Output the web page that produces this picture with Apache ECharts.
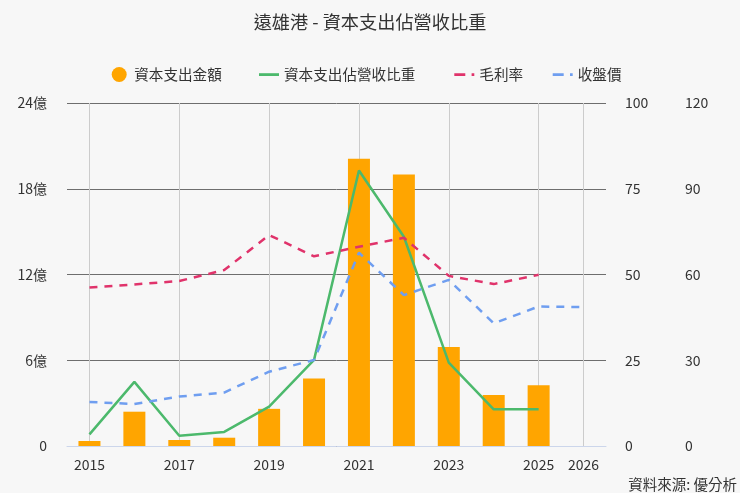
<!DOCTYPE html>
<html>
<head>
<meta charset="utf-8">
<script src="https://cdn.jsdelivr.net/npm/echarts@6/dist/echarts.min.js"></script>
<style>
html,body{margin:0;padding:0;background:#f7f7f7;}
#chart{width:740px;height:493px;}
</style>
</head>
<body>
<div id="chart"></div>
<script>
var years = ['2015','2016','2017','2018','2019','2020','2021','2022','2023','2024','2025','2026'];
var gridYears = ['2015','2017','2019','2021','2023','2025','2026'];
var capex = [0.35, 2.4, 0.42, 0.58, 2.6, 4.73, 20.1, 19.0, 6.93, 3.57, 4.25, null];
var capexRatio = [3.4, 18.7, 3.0, 4.1, 11.5, 25.1, 80.3, 61.0, 24.3, 10.7, 10.7, null];
var grossMargin = [46.2, 47.1, 48.1, 51.3, 61.5, 55.3, 58.1, 60.7, 49.6, 47.2, 49.9, null];
var closePrice = [15.4, 14.7, 17.3, 18.7, 26.0, 30.1, 67.6, 52.8, 58.1, 42.9, 48.8, 48.6];
var leftTicks = {min: 0, max: 24, interval: 6};
var midTicks = {min: 0, max: 100, interval: 25};
var rightTicks = {min: 0, max: 120, interval: 30};

var FONT = '"Noto Sans CJK TC", "Noto Sans", sans-serif';
var chart = echarts.init(document.getElementById('chart'), null, {renderer: 'canvas'});
var showIdx = function (i) { return gridYears.indexOf(years[i]) >= 0; };

var lineIcon = 'path://M0,0 M0,15 M0,6.2h20v2.8h-20z';
var dashIcon = 'path://M0,0 M0,15 M0,6.2h11v2.8h-11z M17.3,6.2h2.7v2.8h-2.7z';
var legendText = {fontSize: 14.6, color: '#333', fontFamily: FONT};
function mkLegend(name, icon, left) {
  return {
    top: 62, left: left, itemWidth: 20, itemHeight: 15,
    textStyle: legendText, data: [{name: name, icon: icon}]
  };
}

chart.setOption({
  backgroundColor: '#f7f7f7',
  animation: false,
  textStyle: {fontFamily: FONT},
  title: {
    text: '遠雄港 - 資本支出佔營收比重',
    left: 'center', top: 8,
    textStyle: {fontSize: 18.2, fontWeight: 'normal', color: '#333', fontFamily: FONT}
  },
  legend: [
    mkLegend('資本支出金額', 'circle', 106.7),
    mkLegend('資本支出佔營收比重', lineIcon, 254),
    mkLegend('毛利率', dashIcon, 449.3),
    mkLegend('收盤價', dashIcon, 547.7)
  ],
  graphic: [{
    type: 'text', right: 3, bottom: 1,
    style: {text: '資料來源: 優分析', fill: '#333', font: '14.5px ' + FONT}
  }],
  grid: {left: 67, right: 134, top: 103, bottom: 47},
  xAxis: {
    type: 'category', data: years, boundaryGap: true,
    axisLine: {lineStyle: {color: '#ccd6eb'}},
    axisTick: {show: false},
    axisLabel: {interval: function (i) { return showIdx(i); }, fontSize: 14, color: '#333', margin: 12, fontFamily: FONT},
    splitLine: {show: false}
  },
  yAxis: [
    {
      type: 'value', min: leftTicks.min, max: leftTicks.max, interval: leftTicks.interval, position: 'left',
      axisLabel: {formatter: function (v) { return v === 0 ? '0' : v + '億'; }, fontSize: 14, color: '#333', margin: 20, fontFamily: FONT},
      axisLine: {show: false}, axisTick: {show: false},
      splitLine: {show: true, lineStyle: {color: '#6e6e6e', width: 1}}
    },
    {
      type: 'value', min: midTicks.min, max: midTicks.max, interval: midTicks.interval, position: 'right',
      axisLabel: {fontSize: 14, color: '#333', margin: 19, fontFamily: FONT},
      axisLine: {show: false}, axisTick: {show: false}, splitLine: {show: false}
    },
    {
      type: 'value', min: rightTicks.min, max: rightTicks.max, interval: rightTicks.interval, position: 'right', offset: 60,
      axisLabel: {fontSize: 14, color: '#333', margin: 19, fontFamily: FONT},
      axisLine: {show: false}, axisTick: {show: false}, splitLine: {show: false}
    }
  ],
  series: [
    {
      name: 'vgrid', type: 'line', yAxisIndex: 0, data: [], z: 0, silent: true,
      markLine: {
        silent: true, symbol: 'none', animation: false, z: 0,
        label: {show: false},
        emphasis: {disabled: true},
        lineStyle: {color: '#cccccc', width: 1, type: 'solid'},
        data: gridYears.map(function (y) { return {xAxis: y}; })
      }
    },
    {
      name: '資本支出金額', type: 'bar', yAxisIndex: 0, data: capex,
      barWidth: 22, itemStyle: {color: '#ffa500'}, z: 2
    },
    {
      name: '資本支出佔營收比重', type: 'line', yAxisIndex: 1, data: capexRatio, z: 3,
      symbol: 'none', lineStyle: {color: '#4cb96c', width: 2.5}, itemStyle: {color: '#4cb96c'}
    },
    {
      name: '毛利率', type: 'line', yAxisIndex: 1, data: grossMargin, z: 3,
      symbol: 'none', lineStyle: {color: '#e0336b', width: 2.5, type: [8, 7]}, itemStyle: {color: '#e0336b'}
    },
    {
      name: '收盤價', type: 'line', yAxisIndex: 2, data: closePrice, z: 3,
      symbol: 'none', lineStyle: {color: '#6f9ef0', width: 2.5, type: [8, 7]}, itemStyle: {color: '#6f9ef0'}
    }
  ]
});
</script>
</body>
</html>
